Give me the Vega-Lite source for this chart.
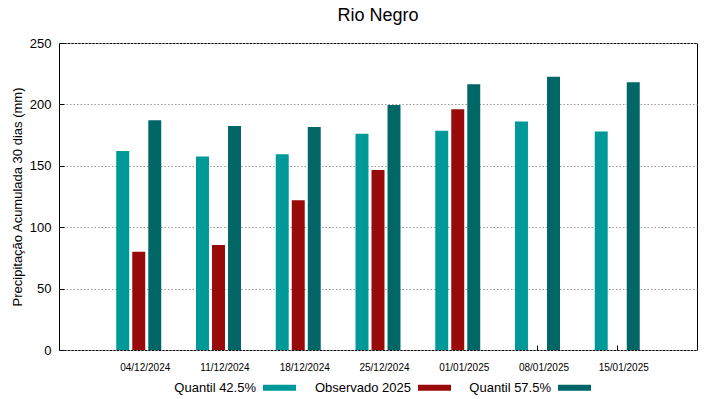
{
  "$schema": "https://vega.github.io/schema/vega-lite/v6.json",
  "autosize": "none",
  "width": 638,
  "height": 307,
  "padding": {"left": 59, "top": 43, "right": 22, "bottom": 49},
  "background": "white",
  "config": {
    "font": "Liberation Sans",
    "view": {"stroke": "#000000", "strokeWidth": 1},
    "axis": {"domain": false, "labelColor": "#000000", "titleColor": "#000000", "titleFontWeight": "normal"}
  },
  "title": {
    "text": "Rio Negro",
    "fontSize": 18,
    "fontWeight": "normal",
    "font": "Liberation Sans",
    "anchor": "middle",
    "frame": "group",
    "offset": 12,
    "color": "#000000"
  },
  "data": {
    "values": [
      {"date": "04/12/2024", "series": "Quantil 42.5%", "value": 162},
      {"date": "04/12/2024", "series": "Observado 2025", "value": 80},
      {"date": "04/12/2024", "series": "Quantil 57.5%", "value": 187},
      {"date": "11/12/2024", "series": "Quantil 42.5%", "value": 157.5},
      {"date": "11/12/2024", "series": "Observado 2025", "value": 85.5},
      {"date": "11/12/2024", "series": "Quantil 57.5%", "value": 182.5},
      {"date": "18/12/2024", "series": "Quantil 42.5%", "value": 159.5},
      {"date": "18/12/2024", "series": "Observado 2025", "value": 122},
      {"date": "18/12/2024", "series": "Quantil 57.5%", "value": 181.5},
      {"date": "25/12/2024", "series": "Quantil 42.5%", "value": 176},
      {"date": "25/12/2024", "series": "Observado 2025", "value": 146.5},
      {"date": "25/12/2024", "series": "Quantil 57.5%", "value": 199.5},
      {"date": "01/01/2025", "series": "Quantil 42.5%", "value": 178.5},
      {"date": "01/01/2025", "series": "Observado 2025", "value": 196},
      {"date": "01/01/2025", "series": "Quantil 57.5%", "value": 216.5},
      {"date": "08/01/2025", "series": "Quantil 42.5%", "value": 186},
      {"date": "08/01/2025", "series": "Quantil 57.5%", "value": 222.5},
      {"date": "15/01/2025", "series": "Quantil 42.5%", "value": 178},
      {"date": "15/01/2025", "series": "Quantil 57.5%", "value": 218}
    ]
  },
  "mark": {"type": "bar"},
  "encoding": {
    "x": {
      "field": "date",
      "type": "nominal",
      "sort": null,
      "scale": {"paddingInner": 0.436, "paddingOuter": 0.718},
      "axis": {
        "title": null,
        "labelAngle": 0,
        "labelFontSize": 10,
        "labelOffset": 6.5,
        "labelPadding": 17,
        "ticks": true,
        "tickSize": -5,
        "tickColor": "#000000",
        "grid": false
      }
    },
    "xOffset": {
      "field": "series",
      "type": "nominal",
      "sort": ["Quantil 42.5%", "Observado 2025", "Quantil 57.5%"],
      "scale": {"paddingInner": 0.19, "paddingOuter": 0}
    },
    "y": {
      "field": "value",
      "type": "quantitative",
      "scale": {"domain": [0, 250], "nice": false},
      "axis": {
        "title": "Precipitação Acumulada 30 dias (mm)",
        "titleFontSize": 13,
        "titlePadding": 5,
        "labelFontSize": 13,
        "values": [0, 50, 100, 150, 200, 250],
        "labelPadding": 13,
        "tickSize": -5,
        "tickColor": "#000000",
        "grid": true,
        "gridColor": "#999999",
        "gridDash": [1.5, 2],
        "gridWidth": 1
      }
    },
    "color": {
      "field": "series",
      "type": "nominal",
      "sort": ["Quantil 42.5%", "Observado 2025", "Quantil 57.5%"],
      "scale": {
        "domain": ["Quantil 42.5%", "Observado 2025", "Quantil 57.5%"],
        "range": ["#009999", "#990a0a", "#006666"]
      },
      "legend": {
        "title": null,
        "orient": "none",
        "direction": "horizontal",
        "legendX": 204,
        "legendY": 328,
        "labelFontSize": 13,
        "labelColor": "#000000",
        "symbolType": "M-1,-0.18H1V0.18H-1Z",
        "symbolSize": 1089,
        "symbolStrokeWidth": 0,
        "symbolOpacity": 1,
        "labelAlign": "right",
        "labelOffset": -40,
        "columnPadding": 18
      }
    }
  }
}
